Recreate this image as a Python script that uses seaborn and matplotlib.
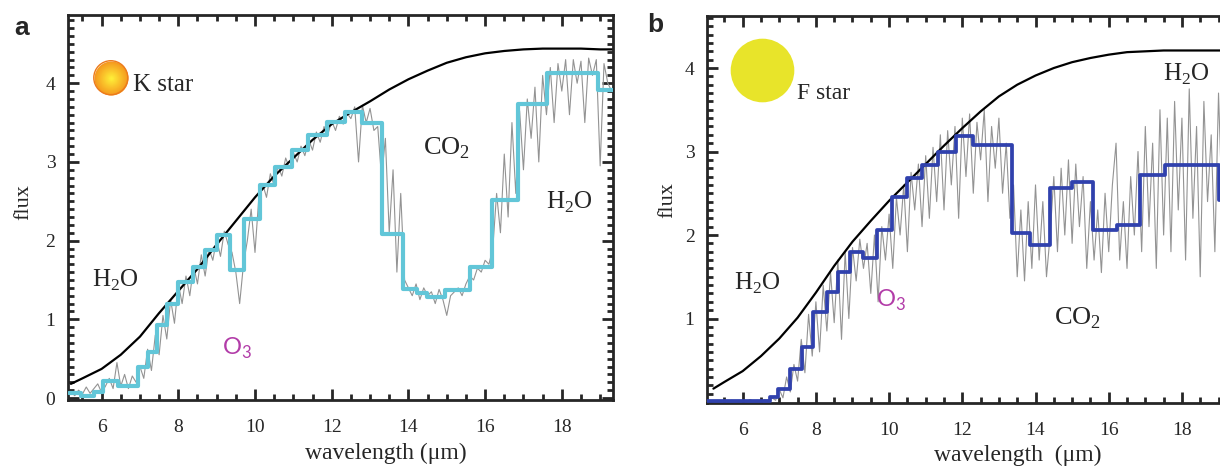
import numpy as np
import pandas as pd
import matplotlib
matplotlib.use("Agg")
import matplotlib.pyplot as plt
import seaborn as sns
from matplotlib.ticker import MultipleLocator
from matplotlib.colors import LinearSegmentedColormap

# ---- panel a (K star) ----
bb_a_wl = [5.2, 5.5, 6.0, 6.5, 7.0, 7.5, 8.0, 8.5, 9.0, 9.5, 10.0, 10.5, 11.0, 11.5,
           12.0, 12.5, 13.0, 13.5, 14.0, 14.5, 15.0, 15.5, 16.0, 16.5, 17.0, 17.5,
           18.0, 18.5, 19.0, 19.35]
bb_a_flux = [0.18, 0.25, 0.37, 0.55, 0.78, 1.08, 1.36, 1.64, 1.95, 2.25, 2.55, 2.82,
             3.05, 3.28, 3.48, 3.63, 3.77, 3.92, 4.05, 4.16, 4.26, 4.33, 4.38, 4.41,
             4.43, 4.44, 4.44, 4.44, 4.43, 4.43]

bin_a_edges = [5.15, 5.45, 5.8, 6.04, 6.44, 6.96, 7.22, 7.44, 7.70, 8.0, 8.39, 8.70,
               9.0, 9.35, 9.72, 10.13, 10.52, 10.96, 11.39, 11.87, 12.35, 12.78,
               13.30, 13.87, 14.22, 14.48, 14.95, 15.61, 16.17, 16.87, 17.61, 18.95,
               19.35]
bin_a_flux = [0.07, 0.03, 0.08, 0.22, 0.15, 0.40, 0.59, 0.93, 1.20, 1.48, 1.67, 1.88,
              2.07, 1.63, 2.27, 2.71, 2.94, 3.15, 3.34, 3.51, 3.64, 3.49, 2.09, 1.39,
              1.34, 1.29, 1.37, 1.67, 2.52, 3.74, 4.13, 3.91]

# high resolution spectrum, 5.2 - 19.3 um every 0.1 um
hires_a = [0.08, 0.03, 0.10, 0.05, 0.14, 0.06, 0.12, 0.18, 0.07, 0.15,
           0.25, 0.12, 0.45, 0.15, 0.30, 0.12, 0.28, 0.20, 0.40, 0.25,
           0.62, 0.35, 0.80, 0.55, 1.05, 0.75, 1.25, 0.95, 1.45, 1.20,
           1.55, 1.30, 1.68, 1.45, 1.82, 1.55, 1.90, 1.75, 2.02, 1.80,
           2.12, 1.95, 1.85, 1.60, 1.20, 1.70, 2.00, 2.40, 1.85, 2.55,
           2.72, 2.55, 2.85, 2.70, 2.95, 2.82, 3.05, 2.92, 3.12, 3.00,
           3.20, 3.08, 3.28, 3.15, 3.38, 3.25, 3.45, 3.35, 3.52, 3.40,
           3.58, 3.48, 3.62, 3.55, 3.70, 3.00, 3.72, 3.50, 3.68, 3.40,
           3.45, 2.80, 3.30, 2.10, 2.90, 1.60, 2.60, 1.50, 1.40, 1.30,
           1.45, 1.25, 1.40, 1.30, 1.35, 1.20, 1.38, 1.25, 1.05, 1.30,
           1.35, 1.40, 1.30, 1.45, 1.55, 1.50, 1.65, 1.60, 1.75, 1.70,
           1.90, 2.60, 2.10, 3.10, 2.30, 3.50, 2.60, 3.65, 2.90, 3.80,
           3.30, 3.95, 3.00, 4.10, 3.60, 4.20, 3.50, 4.25, 3.90, 4.30,
           3.60, 4.30, 4.00, 4.28, 3.50, 4.32, 4.10, 4.30, 2.95, 4.25,
           4.00, 3.90]

# ---- panel b (F star) ----
bb_b_wl = [5.2, 5.5, 6.0, 6.5, 7.0, 7.5, 8.0, 8.5, 9.0, 9.5, 10.0, 10.5, 11.0, 11.5,
           12.0, 12.5, 13.0, 13.5, 14.0, 14.5, 15.0, 15.5, 16.0, 16.5, 17.0, 17.5,
           18.0, 18.5, 19.0, 19.5]
bb_b_flux = [0.16, 0.24, 0.37, 0.55, 0.76, 1.01, 1.31, 1.63, 1.92, 2.17, 2.41, 2.63,
             2.85, 3.07, 3.28, 3.48, 3.66, 3.80, 3.91, 4.00, 4.07, 4.12, 4.16, 4.19,
             4.20, 4.21, 4.21, 4.21, 4.21, 4.21]

bin_b_edges = [5.0, 6.75, 6.97, 7.29, 7.61, 7.93, 8.29, 8.61, 8.93, 9.30, 9.68, 10.07,
               10.48, 10.89, 11.34, 11.84, 12.30, 13.35, 13.85, 14.40, 14.99, 15.58,
               16.22, 16.86, 17.54, 19.0, 19.5]
bin_b_flux = [0.01, 0.06, 0.16, 0.40, 0.66, 1.08, 1.32, 1.56, 1.80, 1.73, 2.06, 2.46,
              2.68, 2.84, 3.00, 3.18, 3.08, 2.02, 1.88, 2.56, 2.64, 2.06, 2.12, 2.72,
              2.84, 2.42]

# high resolution spectrum, 5.0 - 19.3 um every 0.1 um
hires_b = [0.00, 0.01, 0.00, 0.02, 0.00, 0.01, 0.00, 0.02, 0.01, 0.00,
           0.02, 0.00, 0.03, 0.01, 0.02, 0.00, 0.03, 0.02, 0.05, 0.02,
           0.15, 0.05, 0.30, 0.12, 0.45, 0.25, 0.75, 0.35, 1.05, 0.55,
           1.20, 0.60, 1.40, 0.85, 1.55, 0.95, 1.70, 0.75, 1.80, 1.00,
           1.85, 1.45, 1.95, 1.60, 1.90, 1.30, 2.00, 1.20, 2.10, 1.70,
           2.25, 1.60, 2.45, 2.00, 2.60, 1.80, 2.75, 2.30, 2.85, 2.10,
           2.95, 2.20, 3.05, 2.40, 3.20, 2.30, 3.25, 2.60, 3.30, 2.20,
           3.40, 2.70, 3.45, 2.50, 3.35, 2.90, 3.50, 2.40, 3.30, 2.80,
           3.40, 2.50, 3.10, 2.20, 2.60, 1.50, 2.30, 1.45, 2.40, 1.60,
           2.60, 1.70, 2.40, 1.50, 2.00, 2.70, 1.80, 2.80, 2.00, 2.90,
           1.90, 2.85, 2.10, 2.70, 1.60, 2.40, 1.70, 2.30, 1.55, 2.50,
           1.80, 2.60, 3.10, 1.70, 2.40, 1.60, 2.70, 2.00, 3.00, 1.80,
           3.30, 2.10, 3.10, 1.60, 3.50, 2.00, 3.40, 1.80, 3.60, 2.30,
           3.40, 1.70, 3.75, 2.20, 3.30, 1.50, 3.60, 2.40, 3.20, 1.80,
           3.70, 2.30, 3.40, 2.60]

sns.set_style("ticks")
plt.rcParams['font.family'] = ['Liberation Serif', 'DejaVu Serif']

W, H = 1220, 466
fig = plt.figure(figsize=(W / 100, H / 100), dpi=100)
ax_a = fig.add_axes([68 / W, 1 - 400 / H, (613 - 68) / W, (400 - 15) / H])
ax_b = fig.add_axes([707 / W, 1 - 403 / H, (1235 - 707) / W, (403 - 16) / H])


def step_df(edges, vals):
    return pd.DataFrame({"wl": edges, "flux": list(vals) + [vals[-1]]})


def draw_panel(ax, hires, hires_start, bb_wl, bb_flux, edges, bins, bin_color, bin_lw):
    hi = pd.DataFrame({"wl": np.linspace(hires_start, 19.3, len(hires)), "flux": hires})
    sns.lineplot(data=hi, x="wl", y="flux", ax=ax, color="#939393", lw=0.8,
                 estimator=None, sort=False, zorder=1)
    bb = pd.DataFrame({"wl": bb_wl, "flux": bb_flux})
    sns.lineplot(data=bb, x="wl", y="flux", ax=ax, color="black", lw=1.6,
                 estimator=None, sort=False, zorder=2)
    sns.lineplot(data=step_df(edges, bins), x="wl", y="flux", ax=ax, color=bin_color,
                 lw=bin_lw, drawstyle="steps-post", estimator=None, sort=False, zorder=3)
    ax.set_xlabel("")
    ax.set_ylabel("")
    ax.set_xticks([6, 8, 10, 12, 14, 16, 18])
    ax.xaxis.set_minor_locator(MultipleLocator(0.5))
    ax.yaxis.set_minor_locator(MultipleLocator(0.1))
    ax.tick_params(which="both", direction="in", top=True, right=True, width=2,
                   labelsize=14)
    ax.tick_params(which="major", length=8)
    ax.tick_params(which="minor", length=4.5)
    ax.tick_params(axis="x", pad=14)
    ax.tick_params(axis="y", pad=9)
    for sp in ax.spines.values():
        sp.set_linewidth(2)


draw_panel(ax_a, hires_a, 5.2, bb_a_wl, bb_a_flux, bin_a_edges, bin_a_flux, "#62c6d8", 3.0)
draw_panel(ax_b, hires_b, 5.0, bb_b_wl, bb_b_flux, bin_b_edges, bin_b_flux, "#3041ad", 2.7)

ax_a.set_xlim(5.124, 19.335)
ax_a.set_ylim(-0.025, 4.867)
ax_a.set_yticks([0, 1, 2, 3, 4])
ax_b.set_xlim(5.025, 19.45)
ax_b.set_ylim(-0.012, 4.623)
ax_b.set_yticks([1, 2, 3, 4])

# star icons
cmap = LinearSegmentedColormap.from_list("kstar", ["#fff43a", "#f59a1e"])
for f in np.linspace(1, 0.08, 14):
    ax_a.scatter([6.24], [4.07], s=600 * f ** 2, color=cmap(f), lw=0, zorder=5)
ax_a.scatter([6.24], [4.07], s=600, facecolor="none", edgecolor="#ec7a1c", lw=1, zorder=6)
ax_b.scatter([6.52], [3.98], s=2100, color="#e8e42a", lw=0, zorder=5)

# annotations
ax_a.text(6.82, 3.98, "K star", ha="left", va="center", fontsize=18)
ax_a.text(6.35, 1.50, "H$_\\mathregular{2}$O", ha="center", va="center", fontsize=18)
ax_a.text(18.21, 2.49, "H$_\\mathregular{2}$O", ha="center", va="center", fontsize=18)
ax_a.text(15.0, 3.18, "CO$_\\mathregular{2}$", ha="center", va="center", fontsize=19)
ax_a.text(9.53, 0.63, "O$_\\mathregular{3}$", ha="center", va="center", fontsize=17,
          color="#b23ca8", family=["Lato", "DejaVu Sans"])

ax_b.text(7.48, 3.70, "F star", ha="left", va="center", fontsize=17)
ax_b.text(6.39, 1.42, "H$_\\mathregular{2}$O", ha="center", va="center", fontsize=18)
ax_b.text(18.11, 3.92, "H$_\\mathregular{2}$O", ha="center", va="center", fontsize=18)
ax_b.text(15.16, 1.00, "CO$_\\mathregular{2}$", ha="center", va="center", fontsize=19)
ax_b.text(10.05, 1.22, "O$_\\mathregular{3}$", ha="center", va="center", fontsize=17,
          color="#b23ca8", family=["Lato", "DejaVu Sans"])

# panel letters and axis titles
fig.text(22 / W, 1 - 28 / H, "a", fontsize=19, weight="bold", ha="center", va="center",
         family=["Liberation Sans", "DejaVu Sans"])
fig.text(655 / W, 1 - 25 / H, "b", fontsize=19, weight="bold", ha="center", va="center",
         family=["Liberation Sans", "DejaVu Sans"])
fig.text(24 / W, 1 - 202 / H, "flux", rotation=90, fontsize=16, ha="center", va="center")
fig.text(668 / W, 1 - 200 / H, "flux", rotation=90, fontsize=16, ha="center", va="center")
fig.text(386 / W, 1 - 453 / H, "wavelength (\u03bcm)", fontsize=17, ha="center", va="center")
fig.text(1018 / W, 1 - 455 / H, "wavelength  (\u03bcm)", fontsize=17, ha="center", va="center")

fig.savefig("out.png", dpi=100)
